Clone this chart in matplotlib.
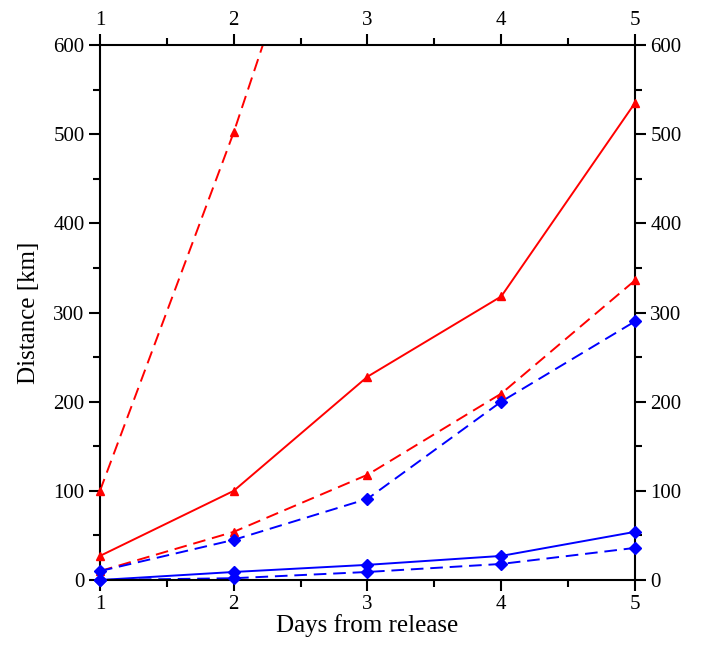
import numpy as np
import matplotlib
matplotlib.use("Agg")
import matplotlib.pyplot as plt
from matplotlib.ticker import MultipleLocator

plt.rcParams['font.family'] = ['Liberation Serif', 'DejaVu Serif']

# values
days = [1, 2, 3, 4, 5]
red_solid = [27, 100, 228, 318, 535]
red_dash_high_days = [1, 2, 3]
red_dash_high = [100, 502, 952]
red_dash_low = [10, 54, 118, 209, 336]
blue_dash_high = [10, 45, 91, 200, 290]
blue_solid = [0, 9, 17, 27, 54]
blue_dash_low = [0, 2, 9, 18, 36]

fig = plt.figure(figsize=(7.12, 6.55), dpi=100)
ax = fig.add_axes([0.1404, 0.1145, 0.7514, 0.8168])

series = [
    (days, red_solid, 'red', '-', '^'),
    (red_dash_high_days, red_dash_high, 'red', '--', '^'),
    (days, red_dash_low, 'red', '--', '^'),
    (days, blue_dash_high, 'blue', '--', 'D'),
    (days, blue_solid, 'blue', '-', 'D'),
    (days, blue_dash_low, 'blue', '--', 'D'),
]
for x, y, c, ls, m in series:
    ax.plot(x, y, color=c, ls=ls, lw=1.4, dashes=(6.5, 3.5) if ls == '--' else (None, None))
    x = np.array(x)
    y = np.array(y)
    keep = y <= 600
    ax.plot(x[keep], y[keep], ls='none', marker=m, color=c, ms=6, clip_on=False, zorder=5)

ax.set_xlim(1, 5)
ax.set_ylim(0, 600)
ax.xaxis.set_major_locator(MultipleLocator(1))
ax.xaxis.set_minor_locator(MultipleLocator(0.5))
ax.yaxis.set_major_locator(MultipleLocator(100))
ax.yaxis.set_minor_locator(MultipleLocator(50))
ax.tick_params(which='both', direction='out', top=True, right=True,
               labeltop=True, labelright=True, width=1.5, labelsize=15)
ax.tick_params(which='major', length=8, pad=3)
ax.tick_params(which='minor', length=5)
for s in ax.spines.values():
    s.set_linewidth(1.5)

ax.set_xlabel('Days from release', fontsize=18, labelpad=0)
ax.set_ylabel('Distance [km]', fontsize=18, labelpad=10)

fig.savefig('out.png', dpi=100)
